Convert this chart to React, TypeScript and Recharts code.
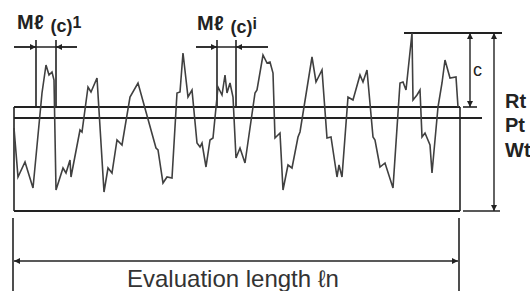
import { LineChart, Line, XAxis, YAxis, ReferenceLine } from 'recharts'

// roughness profile, x along evaluation length, y height above the base line
const profileX = [
  0, 4, 11, 19, 28, 32, 35, 38, 40, 42, 49, 52, 56, 57, 66, 68, 74, 77, 83, 90,
  94, 98, 103, 108, 116, 124, 142, 144, 149, 153, 158, 163, 166, 169, 174, 178,
  183, 186, 188, 192, 196, 199, 204, 208, 211, 213, 216, 219, 222, 226, 231, 241,
  243, 249, 253, 256, 259, 261, 266, 269, 274, 278, 284, 286, 298, 302, 308, 313,
  317, 323, 325, 328, 334, 339, 346, 349, 353, 359, 361, 366, 371, 379, 386, 389,
  392, 398, 399, 403, 406, 408, 411, 416, 418, 424, 428, 431, 436, 442, 444,
]
const profileY = [
  83, 34, 49, 23, 118, 146, 136, 139, 131, 21, 43, 38, 51, 34, 81, 79, 124, 119, 133, 19,
  43, 38, 71, 66, 114, 128, 63, 61, 28, 34, 33, 118, 119, 158, 114, 121,
  68, 64, 68, 44, 71, 73, 124, 116, 136, 118, 128, 114, 53, 63, 48, 118,
  121, 156, 148, 149, 138, 73, 78, 21, 46, 43, 74, 79, 154, 129, 141, 73,
  74, 34, 46, 34, 114, 111, 136, 129, 141, 74, 71, 44, 48, 23, 128, 129,
  121, 178, 111, 116, 121, 74, 78, 66, 38, 104, 128, 151, 133, 134, 104,
]

// levels and extents in the same units
const lengthEnd = 446
const peakLevel = 178
const upperLevel = 104
const ptLevel = 93
const baseLevel = 0
const mlMarks = [
  { left: 22, right: 42, from: 0, to: 63 },
  { left: 203, right: 222, from: 182, to: 254 },
]
const mlTop = 171
const mlArrowLevel = 164
const cArrowX = 456
const rtArrowX = 480
const evalLevel = -50

const data = profileX.map((x, i) => ({ x, y: profileY[i] }))

const ink = '#222'
const font = '"Liberation Sans", Arial, sans-serif'

type Pt = { x: number; y: number }

function Seg({ a, b, start, end, w = 1.6 }: { a: Pt; b: Pt; start?: boolean; end?: boolean; w?: number }) {
  return (
    <ReferenceLine
      segment={[a, b]}
      stroke={ink}
      strokeWidth={w}
      ifOverflow="visible"
      markerStart={start ? 'url(#ah)' : undefined}
      markerEnd={end ? 'url(#ah)' : undefined}
    />
  )
}

export default function App() {
  return (
    <div style={{ position: 'fixed', left: 0, top: 0, width: 530, height: 291, background: '#fff' }}>
      <LineChart
        width={530}
        height={291}
        data={data}
        margin={{ top: 33, left: 14, right: 70, bottom: 80 }}
      >
        <defs>
          <marker
            id="ah"
            viewBox="0 0 10 10"
            refX="10"
            refY="5"
            markerWidth="9"
            markerHeight="6"
            markerUnits="userSpaceOnUse"
            orient="auto-start-reverse"
          >
            <path d="M0,0L10,5L0,10z" fill={ink} />
          </marker>
        </defs>
        <XAxis type="number" dataKey="x" domain={[0, lengthEnd]} hide />
        <YAxis type="number" domain={[baseLevel, peakLevel]} hide />

        {/* frame */}
        <Seg a={{ x: 0, y: upperLevel }} b={{ x: lengthEnd, y: upperLevel }} w={2} />
        <Seg a={{ x: 0, y: baseLevel }} b={{ x: lengthEnd, y: baseLevel }} w={2} />
        <Seg a={{ x: 0, y: baseLevel }} b={{ x: 0, y: upperLevel }} />
        <Seg a={{ x: lengthEnd, y: baseLevel }} b={{ x: lengthEnd, y: upperLevel }} />
        <Seg a={{ x: 0, y: ptLevel }} b={{ x: 468, y: ptLevel }} w={2} />
        <Seg a={{ x: 390, y: peakLevel }} b={{ x: 488, y: peakLevel }} w={2} />
        <Seg a={{ x: 449, y: upperLevel }} b={{ x: 463, y: upperLevel }} />
        <Seg a={{ x: 449, y: baseLevel }} b={{ x: 486, y: baseLevel }} />

        {/* Ml(c) markers */}
        {mlMarks.map((m, i) => [
          <Seg key={`l${i}`} a={{ x: m.left, y: upperLevel }} b={{ x: m.left, y: mlTop }} />,
          <Seg key={`r${i}`} a={{ x: m.right, y: upperLevel }} b={{ x: m.right, y: mlTop }} />,
          <Seg key={`h${i}`} a={{ x: m.from, y: mlArrowLevel }} b={{ x: m.to, y: mlArrowLevel }} w={1.4} />,
          <Seg key={`a${i}`} a={{ x: m.from, y: mlArrowLevel }} b={{ x: m.left, y: mlArrowLevel }} end w={1.4} />,
          <Seg key={`b${i}`} a={{ x: m.to, y: mlArrowLevel }} b={{ x: m.right, y: mlArrowLevel }} end w={1.4} />,
        ])}

        {/* c and Rt dimensions */}
        <Seg a={{ x: cArrowX, y: peakLevel }} b={{ x: cArrowX, y: upperLevel }} start end w={1.4} />
        <Seg a={{ x: rtArrowX, y: peakLevel }} b={{ x: rtArrowX, y: baseLevel }} start end w={1.4} />

        {/* evaluation length */}
        <Seg a={{ x: -1, y: -7 }} b={{ x: -1, y: -80 }} />
        <Seg a={{ x: lengthEnd - 1, y: -7 }} b={{ x: lengthEnd - 1, y: -80 }} />
        <Seg a={{ x: 0, y: evalLevel }} b={{ x: lengthEnd - 2, y: evalLevel }} start end w={1.4} />

        <Line
          type="linear"
          dataKey="y"
          stroke="#404040"
          strokeWidth={1.6}
          dot={false}
          isAnimationActive={false}
        />
      </LineChart>
      <svg
        width={530}
        height={291}
        style={{ position: 'absolute', left: 0, top: 0, pointerEvents: 'none' }}
        fontFamily={font}
        fill={ink}
      >
        <text x={17} y={29} fontWeight="bold" fontSize={20}>
          Mℓ<tspan fontSize={18} dx={7} dy={3}>(c)</tspan>
          <tspan fontSize={16} dy={-4}>1</tspan>
        </text>
        <text x={197} y={30} fontWeight="bold" fontSize={20}>
          Mℓ<tspan fontSize={18} dx={7} dy={3}>(c)</tspan>
          <tspan fontSize={16} dy={-4}>i</tspan>
        </text>
        <text x={473} y={76} fontSize={18}>c</text>
        <text x={505} y={108} fontWeight="bold" fontSize={20}>Rt</text>
        <text x={505} y={132} fontWeight="bold" fontSize={20}>Pt</text>
        <text x={505} y={157} fontWeight="bold" fontSize={20}>Wt</text>
        <text x={127} y={287} fontSize={24} fill="#333">Evaluation length ℓn</text>
      </svg>
    </div>
  )
}
